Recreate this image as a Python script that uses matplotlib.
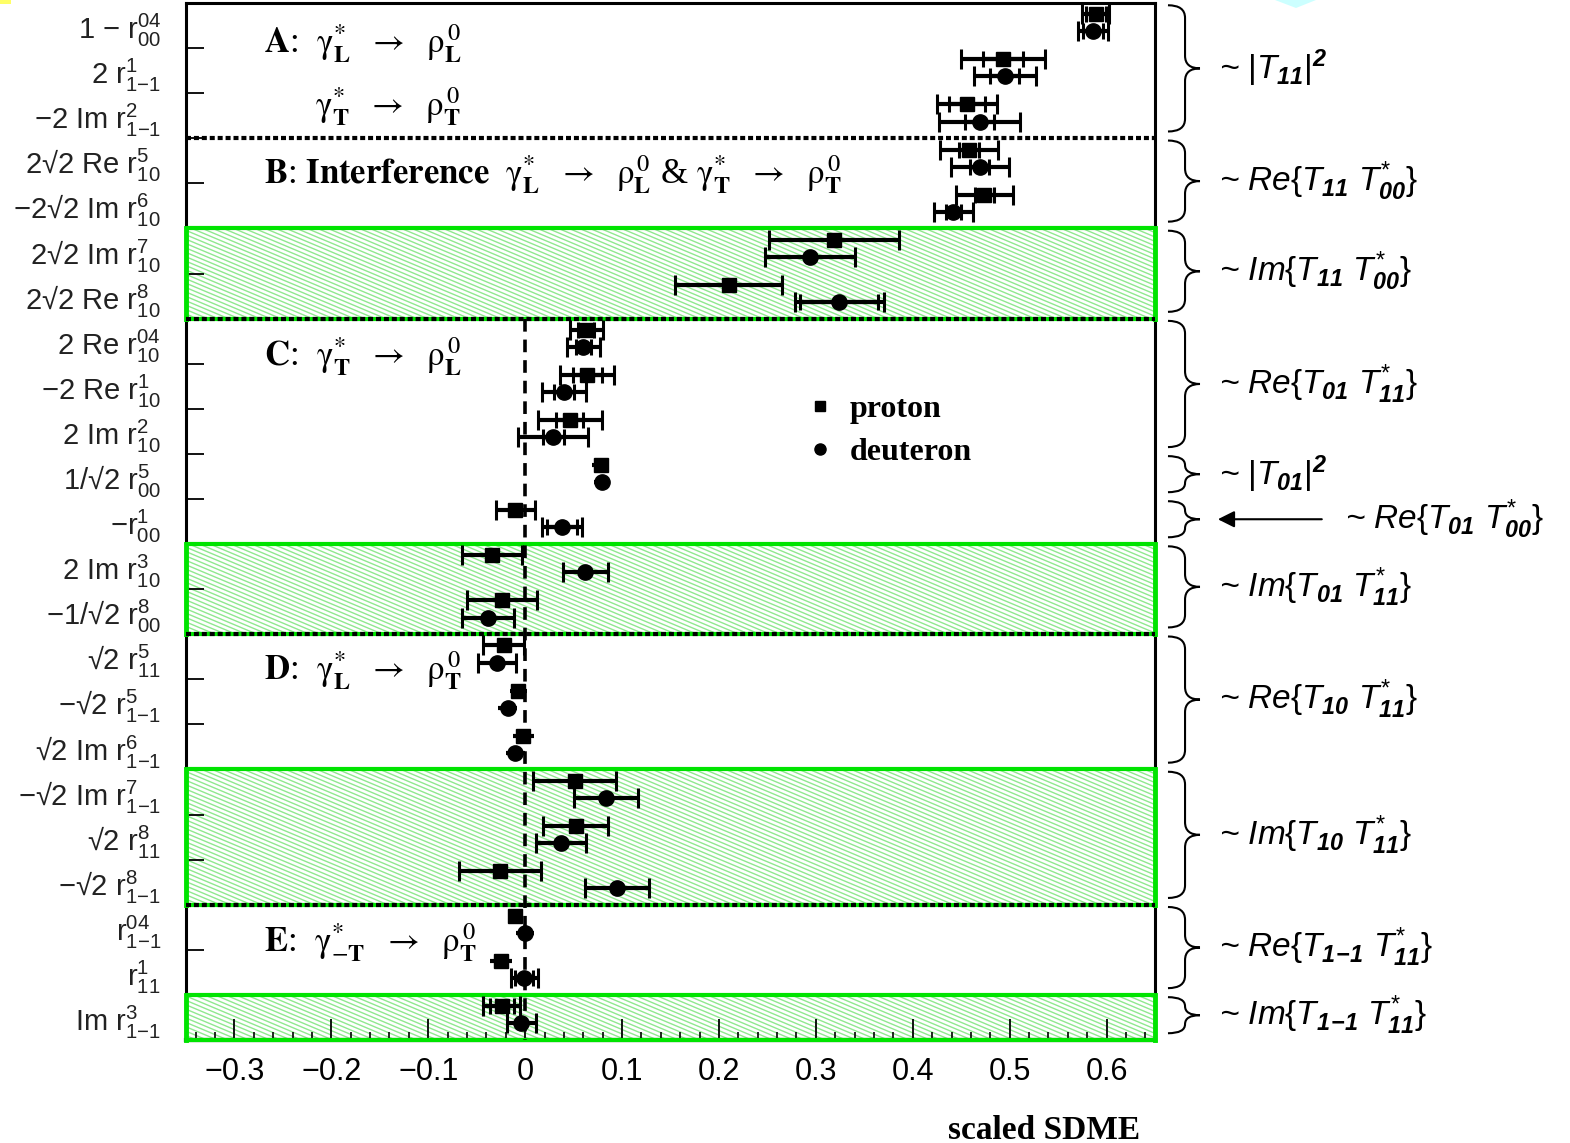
import numpy as np
import matplotlib
matplotlib.use('Agg')
import matplotlib.pyplot as plt
from matplotlib.collections import LineCollection
from matplotlib.patches import Rectangle, Polygon, PathPatch
from matplotlib.path import Path
import matplotlib.transforms as mtransforms
from matplotlib.lines import Line2D
from matplotlib.ticker import MultipleLocator, FuncFormatter

plt.rcParams['mathtext.fontset'] = 'custom'
plt.rcParams['mathtext.rm'] = 'Liberation Sans'
plt.rcParams['mathtext.it'] = 'Liberation Sans:italic'
plt.rcParams['mathtext.bf'] = 'Liberation Sans:bold:italic'
plt.rcParams['mathtext.sf'] = 'Liberation Sans'
plt.rcParams['font.family'] = ['Liberation Sans', 'DejaVu Sans']

# ---------------- data ----------------
sdme_prefix = ['1 \u2212 ', '2 ', '\u22122 Im ', '2\u221a2 Re ', '\u22122\u221a2 Im ',
               '2\u221a2 Im ', '2\u221a2 Re ', '2 Re ', '\u22122 Re ', '2 Im ',
               '1/\u221a2 ', '\u2212', '2 Im ', '\u22121/\u221a2 ', '\u221a2 ',
               '\u2212\u221a2 ', '\u221a2 Im ', '\u2212\u221a2 Im ', '\u221a2 ', '\u2212\u221a2 ',
               '', '', 'Im ']
sdme_sup = ['04', '1', '2', '5', '6', '7', '8', '04', '1', '2', '5', '1', '3', '8',
            '5', '5', '6', '7', '8', '8', '04', '1', '3']
sdme_sub = ['00', '1{-}1', '1{-}1', '10', '10', '10', '10', '10', '10', '10', '00', '00',
            '10', '00', '11', '1{-}1', '1{-}1', '1{-}1', '11', '1{-}1', '1{-}1', '11', '1{-}1']

proton_val = [0.589, 0.493, 0.456, 0.458, 0.474, 0.319, 0.210, 0.063, 0.064, 0.046, 0.078, -0.010,
              -0.034, -0.024, -0.022, -0.007, -0.002, 0.051, 0.052, -0.026, -0.010, -0.025, -0.024]
proton_tot = [0.014, 0.043, 0.031, 0.030, 0.029, 0.067, 0.055, 0.017, 0.028, 0.033, 0.009, 0.020,
              0.031, 0.036, 0.021, 0.009, 0.011, 0.043, 0.034, 0.042, 0.008, 0.011, 0.019]
proton_stat = [0.010, 0.021, 0.019, 0.010, 0.010, 0.067, 0.055, 0.008, 0.015, 0.014, 0.006, 0.020,
               0.031, 0.036, 0.021, 0.006, 0.007, 0.043, 0.034, 0.042, 0.006, 0.008, 0.012]
deuteron_val = [0.586, 0.495, 0.469, 0.469, 0.442, 0.294, 0.324, 0.060, 0.040, 0.029, 0.079, 0.038,
                0.062, -0.038, -0.029, -0.018, -0.010, 0.083, 0.037, 0.095, 0.000, -0.001, -0.004]
deuteron_tot = [0.015, 0.032, 0.042, 0.030, 0.020, 0.046, 0.046, 0.017, 0.023, 0.036, 0.008, 0.021,
                0.023, 0.027, 0.020, 0.010, 0.010, 0.033, 0.026, 0.033, 0.009, 0.014, 0.015]
deuteron_stat = [0.010, 0.015, 0.015, 0.010, 0.008, 0.046, 0.040, 0.008, 0.010, 0.011, 0.006, 0.015,
                 0.023, 0.027, 0.020, 0.006, 0.006, 0.033, 0.026, 0.033, 0.006, 0.009, 0.015]

# hatched (imaginary-part) bands: (first row, last row + 1)
band_rows = [(5, 7), (12, 14), (17, 20), (22, 23)]
dotted_rows = [3, 7, 14, 20]

# right-hand braces: (first row, last row, label)
brace_groups = [
    (0, 2, r'~ $\mathit{|T_{\mathbf{11}}|}^{\mathbf{2}}$'),
    (3, 4, r'~ $\mathit{Re\{T_{\mathbf{11}}\ T^{*}_{\mathbf{00}}\}}$'),
    (5, 6, r'~ $\mathit{Im\{T_{\mathbf{11}}\ T^{*}_{\mathbf{00}}\}}$'),
    (7, 9, r'~ $\mathit{Re\{T_{\mathbf{01}}\ T^{*}_{\mathbf{11}}\}}$'),
    (10, 10, r'~ $\mathit{|T_{\mathbf{01}}|}^{\mathbf{2}}$'),
    (11, 11, r'~ $\mathit{Re\{T_{\mathbf{01}}\ T^{*}_{\mathbf{00}}\}}$'),
    (12, 13, r'~ $\mathit{Im\{T_{\mathbf{01}}\ T^{*}_{\mathbf{11}}\}}$'),
    (14, 16, r'~ $\mathit{Re\{T_{\mathbf{10}}\ T^{*}_{\mathbf{11}}\}}$'),
    (17, 19, r'~ $\mathit{Im\{T_{\mathbf{10}}\ T^{*}_{\mathbf{11}}\}}$'),
    (20, 21, r'~ $\mathit{Re\{T_{\mathbf{1\!-\!1}}\ T^{*}_{\mathbf{11}}\}}$'),
    (22, 22, r'~ $\mathit{Im\{T_{\mathbf{1\!-\!1}}\ T^{*}_{\mathbf{11}}\}}$'),
]

AR = r'\ \ \rightarrow\ \ '
G = r'\mathrm{\gamma}'
R = r'\mathrm{\rho}'
region_labels = [
    (0.9, -0.269, r'$\mathbf{A}$:  $' + G + r'^{*}_{\mathbf{L}}' + AR + R + r'^{\,0}_{\mathbf{L}}$'),
    (2.3, -0.217, r'$' + G + r'^{*}_{\mathbf{T}}' + AR + R + r'^{\,0}_{\mathbf{T}}$'),
    (3.8, -0.269, r'$\mathbf{B}$: $\mathbf{Interference}\ \ ' + G + r'^{*}_{\mathbf{L}}' + AR + R
     + r'^{\,0}_{\mathbf{L}}$ & $' + G + r'^{*}_{\mathbf{T}}' + AR + R + r'^{\,0}_{\mathbf{T}}$'),
    (7.85, -0.269, r'$\mathbf{C}$:  $' + G + r'^{*}_{\mathbf{T}}' + AR + R + r'^{\,0}_{\mathbf{L}}$'),
    (14.8, -0.269, r'$\mathbf{D}$:  $' + G + r'^{*}_{\mathbf{L}}' + AR + R + r'^{\,0}_{\mathbf{T}}$'),
    (20.85, -0.269, r'$\mathbf{E}$:  $' + G + r'^{*}_{\mathrm{-}\mathbf{T}}' + AR + R + r'^{\,0}_{\mathbf{T}}$'),
]

n = len(sdme_prefix)
rows = np.arange(n)
y_p = rows + 0.25
y_d = rows + 0.63

W, H = 1570, 1143
fig = plt.figure(figsize=(W / 100, H / 100), dpi=100)
ax = fig.add_axes([186 / W, 1 - 1040 / H, 969 / W, 1037 / H])
ax.set_xlim(-0.35, 0.65)
ax.set_ylim(n, 0)

GREEN = '#00e400'
HATCH = '#8fe88f'

# hatched bands
for (r0, r1) in band_rows:
    rect = Rectangle((-0.35, r0), 1.0, r1 - r0, facecolor='white', edgecolor='none',
                     transform=ax.transData, zorder=1)
    ax.add_patch(rect)
    s = 0.42 * 969 / 1037
    cs = np.arange(0, 1 + s + 0.01, 4.4 / 1037)
    segs = [[(0, c), (1, c - s)] for c in cs]
    lc = LineCollection(segs, colors=HATCH, linewidths=1.0, transform=ax.transAxes, zorder=1.1)
    ax.add_collection(lc)
    lc.set_clip_path(rect)
    ax.plot([-0.35, 0.65], [r0, r0], color=GREEN, lw=3, zorder=3, solid_capstyle='butt')
    ax.plot([-0.35, 0.65], [r1, r1], color=GREEN, lw=3, zorder=3, clip_on=False, solid_capstyle='butt')
    ax.plot([-0.35, -0.35], [r0, r1], color=GREEN, lw=3.5, zorder=3, clip_on=False)
    ax.plot([0.65, 0.65], [r0, r1], color=GREEN, lw=3.5, zorder=3, clip_on=False)

for r in dotted_rows:
    ax.plot([-0.35, 0.65], [r, r], color='black', lw=3, ls=(0, (1.2, 0.7)), zorder=3.2)

# vertical zero line
ax.plot([0, 0], [7, n], color='black', lw=2.6, ls=(0, (3.5, 2.2)), zorder=3.5)

# data points
ekw = dict(ecolor='black', elinewidth=3, capthick=2.2, zorder=5)
ax.plot(proton_val, y_p, 's', ms=10, color='black', zorder=6)
ax.plot(deuteron_val, y_d, 'o', ms=11, color='black', zorder=6)
for vals, stats, tots, yy in [(proton_val, proton_stat, proton_tot, y_p),
                              (deuteron_val, deuteron_stat, deuteron_tot, y_d)]:
    big = [i for i in range(n) if tots[i] > 0.012]
    small = [i for i in range(n) if tots[i] <= 0.012]
    ax.errorbar([vals[i] for i in big], [yy[i] for i in big], xerr=[tots[i] for i in big],
                fmt='none', capsize=7, **ekw)
    ax.errorbar([vals[i] for i in small], [yy[i] for i in small], xerr=[tots[i] for i in small],
                fmt='none', capsize=0, **ekw)
    sel = [i for i in range(n) if stats[i] < tots[i] - 0.002 and tots[i] > 0.012]
    ax.errorbar([vals[i] for i in sel], [yy[i] for i in sel], xerr=[stats[i] for i in sel],
                fmt='none', capsize=6, **ekw)

# axes styling
for side in ['left', 'right', 'top', 'bottom']:
    ax.spines[side].set_linewidth(2.2)
    ax.spines[side].set_zorder(2.5)
ax.spines['bottom'].set_linewidth(3)

ax.xaxis.set_major_locator(MultipleLocator(0.1))
ax.xaxis.set_minor_locator(MultipleLocator(0.02))
ax.xaxis.set_major_formatter(FuncFormatter(lambda v, p: '0' if abs(v) < 1e-9 else f'{v:.1f}'.replace('-', '\u2212')))
ax.tick_params(axis='x', which='major', direction='in', length=15, width=1.3, labelsize=22,
               pad=12, top=False)
ax.tick_params(axis='x', which='minor', direction='in', length=6, width=1.2, top=False)

ax.set_yticks(np.arange(1, n))
ax.set_yticklabels([])
ax.set_yticks(rows + 0.5, minor=True)
ax.set_yticklabels([p + r'$\mathrm{r}^{%s}_{%s}$' % (a, b)
                    for p, a, b in zip(sdme_prefix, sdme_sup, sdme_sub)], minor=True)
ax.tick_params(axis='y', which='major', direction='in', length=13, width=1.3, right=False)
ax.tick_params(axis='y', which='minor', length=0, labelsize=21, pad=18, colors='#222222')

ax.set_xlabel('scaled SDME', fontfamily='Liberation Serif', fontweight='bold', fontsize=24)
ax.xaxis.set_label_coords(0.985, -0.072)
ax.xaxis.label.set_ha('right')
ax.xaxis.label.set_va('top')

# region labels
for yy, xx, txt in region_labels:
    ax.text(xx, yy, txt, fontsize=25, fontfamily='Liberation Serif', math_fontfamily='stix',
            va='center', ha='left', zorder=6)

# legend
handles = [Line2D([], [], marker='s', ls='none', color='black', ms=7),
           Line2D([], [], marker='o', ls='none', color='black', ms=8)]
ax.legend(handles, ['proton', 'deuteron'], loc='upper left', bbox_to_anchor=(0.621, 0.638),
          frameon=False, handlelength=1.0, handletextpad=0.45, labelspacing=0.45, borderpad=0,
          prop={'family': 'Liberation Serif', 'weight': 'bold', 'size': 23})

# braces
btrans = mtransforms.blended_transform_factory(ax.transAxes, ax.transData)
x0, x1, x2 = 1.0134, 1.031, 1.0464
for (ra, rb, txt) in brace_groups:
    y0 = ra + 0.05
    y1 = rb + 0.85
    ym = 0.5 * (y0 + y1)
    r = min(0.28, (y1 - y0) / 4)
    verts = [(x0, y0), (x1, y0), (x1, y0 + r),
             (x1, ym - r), (x1, ym), (x2, ym),
             (x1, ym), (x1, ym + r),
             (x1, y1 - r), (x1, y1), (x0, y1)]
    codes = [Path.MOVETO, Path.CURVE3, Path.CURVE3,
             Path.LINETO, Path.CURVE3, Path.CURVE3,
             Path.CURVE3, Path.CURVE3,
             Path.LINETO, Path.CURVE3, Path.CURVE3]
    ax.add_patch(PathPatch(Path(verts, codes), transform=btrans, fill=False, lw=1.5,
                           edgecolor='black', clip_on=False))
    if ra == 11:
        ax.annotate('', xy=(1.062, ym), xytext=(1.175, ym), xycoords=btrans, textcoords=btrans,
                    arrowprops=dict(arrowstyle='-|>', color='black', lw=1.5, mutation_scale=25))
        ax.text(1.196, ym, txt, transform=btrans, fontsize=24, fontstyle='italic',
                va='center', ha='left', clip_on=False)
    else:
        ax.text(1.066, ym, txt, transform=btrans, fontsize=24, fontstyle='italic',
                va='center', ha='left', clip_on=False)

# small background artifacts of the original slide
fig.patches.append(Polygon([(0, 1), (11 / W, 1), (11 / W, 1 - 4 / H), (0, 1 - 4 / H)],
                           closed=True, transform=fig.transFigure, facecolor='#ffff66',
                           edgecolor='none'))
fig.patches.append(Polygon([(1275 / W, 1), (1316 / W, 1), (1296 / W, 1 - 8 / H)],
                           closed=True, transform=fig.transFigure, facecolor='#ccffff',
                           edgecolor='none'))

fig.savefig('out.png', dpi=100)
